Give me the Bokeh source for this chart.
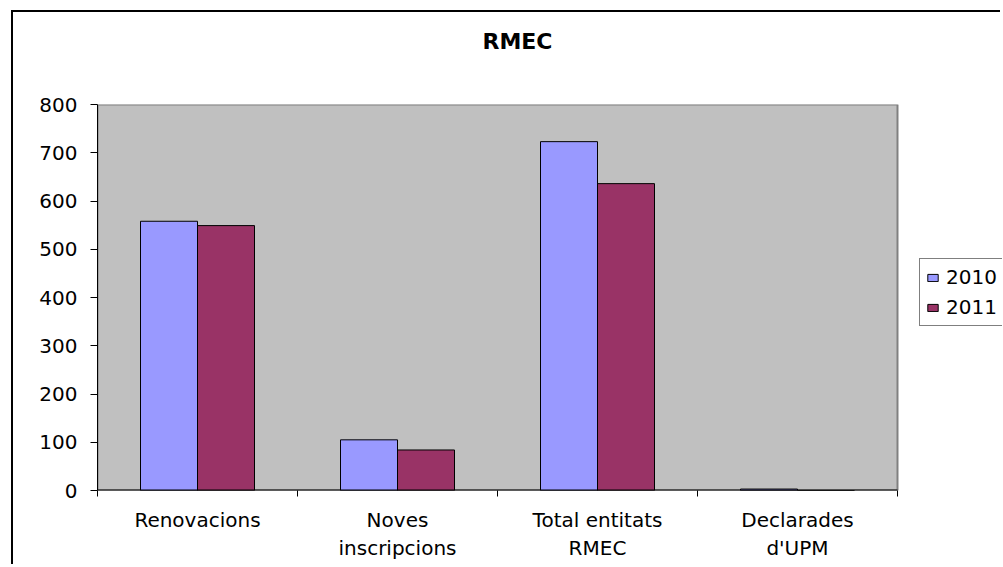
from bokeh.plotting import figure
from bokeh.models import FixedTicker, Legend, LegendItem, Range1d, CustomJSTickFormatter, Title
from bokeh.embed import file_html
from bokeh.resources import INLINE

categories = ["Renovacions", "Noves\ninscripcions", "Total entitats\nRMEC", "Declarades\nd'UPM"]
series = ["2010", "2011"]
values_2010 = [558, 105, 723, 3]
values_2011 = [549, 84, 636, 0]
y_ticks = [0, 100, 200, 300, 400, 500, 600, 700, 800]
chart_title = "RMEC"

FONT = "DejaVu Sans"
BAR_W = 0.285
N = len(categories)
Y_MAX = y_ticks[-1]

# frame extends to the right edge so the legend can sit beside the plot area
p = figure(width=989, height=554, output_backend="svg", toolbar_location=None,
           x_range=Range1d(0, 905 / 200), y_range=Range1d(0, Y_MAX),
           min_border_left=84, min_border_top=92, min_border_right=0, min_border_bottom=76)
p.margin = (10, 0, 0, 11)
p.styles = {"border-left": "2px solid black", "border-top": "2px solid black"}

p.background_fill_color = "white"
p.border_fill_color = "white"
p.outline_line_color = None
p.xgrid.visible = False
p.ygrid.visible = False

# plot area
p.quad(left=0, right=N, bottom=0, top=Y_MAX, fill_color="#C0C0C0",
       line_color="#808080", line_width=2)

idx = list(range(N))
x2010 = [i + 0.5 - BAR_W / 2 for i in idx]
x2011 = [i + 0.5 + BAR_W / 2 for i in idx]
r1 = p.vbar(x=x2010, top=values_2010, width=BAR_W, bottom=0,
            fill_color="#9999FF", line_color="black", line_width=1)
r2 = p.vbar(x=x2011, top=values_2011, width=BAR_W, bottom=0,
            fill_color="#993366", line_color="black", line_width=1)

# category axis line
p.segment(x0=[0], y0=[0], x1=[N], y1=[0], line_color="black", line_width=2)

# real title outermost, spacer title stacked between it and the frame
p.title.text = chart_title
p.title.align = "left"
p.title.offset = 385
p.title.standoff = 10
p.title.text_font = FONT
p.title.text_font_size = "22px"
p.title.text_font_style = "bold"
p.title.text_color = "black"
p.add_layout(Title(text=" ", text_font_size="2px", standoff=42), "above")

ya = p.yaxis[0]
ya.ticker = FixedTicker(ticks=y_ticks)
ya.major_tick_out = 7
ya.major_tick_in = 0
ya.minor_tick_line_color = None
ya.axis_line_color = "black"
ya.major_tick_line_color = "black"
ya.major_label_text_font = FONT
ya.major_label_text_font_size = "20px"
ya.major_label_text_color = "black"
ya.major_label_standoff = 13

xa = p.xaxis[0]
xa.ticker = FixedTicker(ticks=[i + 0.5 for i in idx], minor_ticks=list(range(N + 1)))
xa.formatter = CustomJSTickFormatter(args=dict(labels=categories),
                                     code="return labels[Math.floor(tick)];")
xa.major_tick_line_color = None
xa.major_tick_out = 0
xa.major_tick_in = 0
xa.minor_tick_out = 6
xa.minor_tick_in = 0
xa.minor_tick_line_color = "black"
xa.axis_line_color = None
xa.major_label_text_font = FONT
xa.major_label_text_font_size = "20px"
xa.major_label_text_color = "black"
xa.major_label_standoff = 11

legend = Legend(items=[LegendItem(label=series[0], renderers=[r1]),
                       LegendItem(label=series[1], renderers=[r2])],
                location=(822, 164))
legend.border_line_color = "black"
legend.border_line_width = 1
legend.background_fill_color = "white"
legend.label_text_font = FONT
legend.label_text_font_size = "20px"
legend.label_text_color = "black"
legend.glyph_width = 13
legend.glyph_height = 9
legend.label_standoff = 7
legend.padding = 6
legend.spacing = 6
legend.margin = 0
p.add_layout(legend, "center")

open("out.html", "w").write(file_html(p, INLINE))
